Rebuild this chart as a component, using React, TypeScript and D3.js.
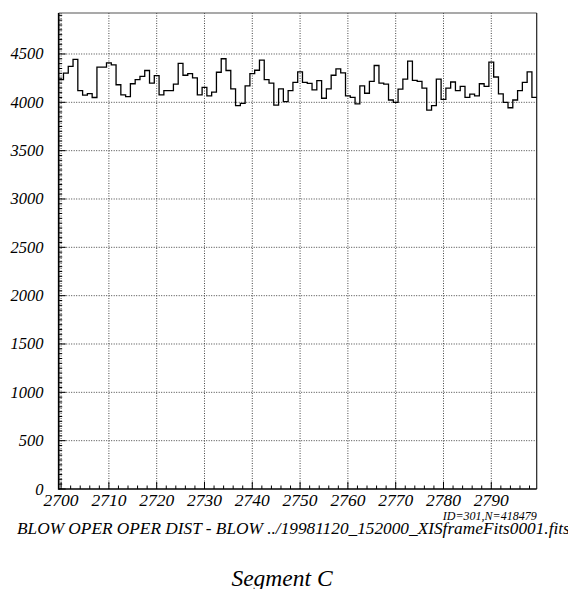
import React from "react";
import * as d3 from "d3";

const binStart = 2700;
const counts = [
  4234, 4302, 4372, 4445, 4120, 4075, 4090, 4050, 4364, 4364,
  4409, 4388, 4182, 4077, 4059, 4192, 4234, 4269, 4329, 4199,
  4276, 4077, 4122, 4122, 4189, 4402, 4280, 4297, 4252, 4077,
  4154, 4066, 4105, 4311, 4451, 4329, 4140, 3965, 3990, 4171,
  4297, 4332, 4437, 4234, 4199, 3972, 4140, 4007, 4122, 4206,
  4315, 4206, 4196, 4129, 4224, 4042, 4140, 4280, 4346, 4304,
  4066, 4052, 3983, 4171, 4094, 4217, 4381, 4199, 4189, 4024,
  4000, 4136, 4241, 4427, 4227, 4217, 4147, 3920, 3965, 4241,
  4031, 4147, 4210, 4122, 4164, 4052, 4084, 4066, 4192, 4164,
  4416, 4262, 4087, 4000, 3944, 4024, 4122, 4206, 4315, 4052,
];
const xTicks = [2700, 2710, 2720, 2730, 2740, 2750, 2760, 2770, 2780, 2790];
const yTicks = [0, 500, 1000, 1500, 2000, 2500, 3000, 3500, 4000, 4500];
const xDomain = [2699.5, 2799.5];
const yDomain = [0, 4924];
const xTitle = "BLOW OPER OPER DIST - BLOW ../19981120_152000_XISframeFits0001.fits";
const statsLabel = "ID=301,N=418479";
const caption = "Segment C";

const W = 568;
const H = 589;
const L = 58.7, R = 536.7, T = 13, B = 489;

const txt = (size: number): React.CSSProperties => ({
  fontFamily: '"Liberation Serif"',
  fontStyle: "italic",
  fontSize: size + "px",
});

export default function App() {
  const x = d3.scaleLinear().domain(xDomain).range([L, R]);
  const y = d3.scaleLinear().domain(yDomain).range([B, T]);

  const pts: [number, number][] = counts.map((v, i) => [binStart - 0.5 + i, v]);
  pts.push([binStart - 0.5 + counts.length, counts[counts.length - 1]]);
  const line = d3
    .line<[number, number]>()
    .x((d) => x(d[0]))
    .y((d) => y(d[1]))
    .curve(d3.curveStepAfter);

  const xMinor = d3.range(2700, 2800, 2);
  const yMinor = d3.range(0, 4924, 50);

  return (
    <svg
      width={W}
      height={H}
      style={{ position: "absolute", left: 0, top: 0, background: "#fff" }}
    >
      <rect x={0} y={0} width={W} height={H} fill="#fff" />
      {xTicks.map((t) => (
        <line
          key={"gx" + t}
          x1={x(t)}
          x2={x(t)}
          y1={T}
          y2={B}
          stroke="#444"
          strokeWidth={1}
          strokeDasharray="1,1.5"
        />
      ))}
      {yTicks.filter((t) => t > 0).map((t) => (
        <line
          key={"gy" + t}
          x1={L}
          x2={R}
          y1={y(t)}
          y2={y(t)}
          stroke="#444"
          strokeWidth={1}
          strokeDasharray="1,1.5"
        />
      ))}
      {xMinor.map((t) => (
        <line
          key={"tx" + t}
          x1={x(t)}
          x2={x(t)}
          y1={B}
          y2={B - (t % 10 === 0 ? 7 : 3.5)}
          stroke="#000"
          strokeWidth={1}
        />
      ))}
      {yMinor.map((t) => (
        <line
          key={"ty" + t}
          x1={L}
          x2={L + (t % 500 === 0 ? 7 : 3.5)}
          y1={y(t)}
          y2={y(t)}
          stroke="#000"
          strokeWidth={1}
        />
      ))}
      <line x1={L} x2={R} y1={T} y2={T} stroke="#555" strokeWidth={1.2} />
      <line x1={R} x2={R} y1={T} y2={B} stroke="#222" strokeWidth={1.2} />
      <line x1={L} x2={L} y1={T} y2={B + 0.8} stroke="#000" strokeWidth={1.7} />
      <line x1={L} x2={R} y1={B} y2={B} stroke="#000" strokeWidth={1.7} />
      <path d={line(pts) || ""} fill="none" stroke="#000" strokeWidth={1.3} />
      {yTicks.map((t) => (
        <text
          key={"ly" + t}
          x={43.5}
          y={y(t) + 5.5}
          textAnchor="end"
          style={txt(16.5)}
          fill="#000"
        >
          {t}
        </text>
      ))}
      {xTicks.map((t) => (
        <text
          key={"lx" + t}
          x={x(t)}
          y={506}
          textAnchor="middle"
          style={txt(17.5)}
          fill="#000"
        >
          {t}
        </text>
      ))}
      <text x={R} y={519.5} textAnchor="end" style={txt(12)} fill="#000">
        {statsLabel}
      </text>
      <text x={17} y={534} style={txt(17.3)} fill="#000">
        {xTitle}
      </text>
      <text x={282} y={586} textAnchor="middle" style={txt(23.5)} fill="#000">
        {caption}
      </text>
    </svg>
  );
}
